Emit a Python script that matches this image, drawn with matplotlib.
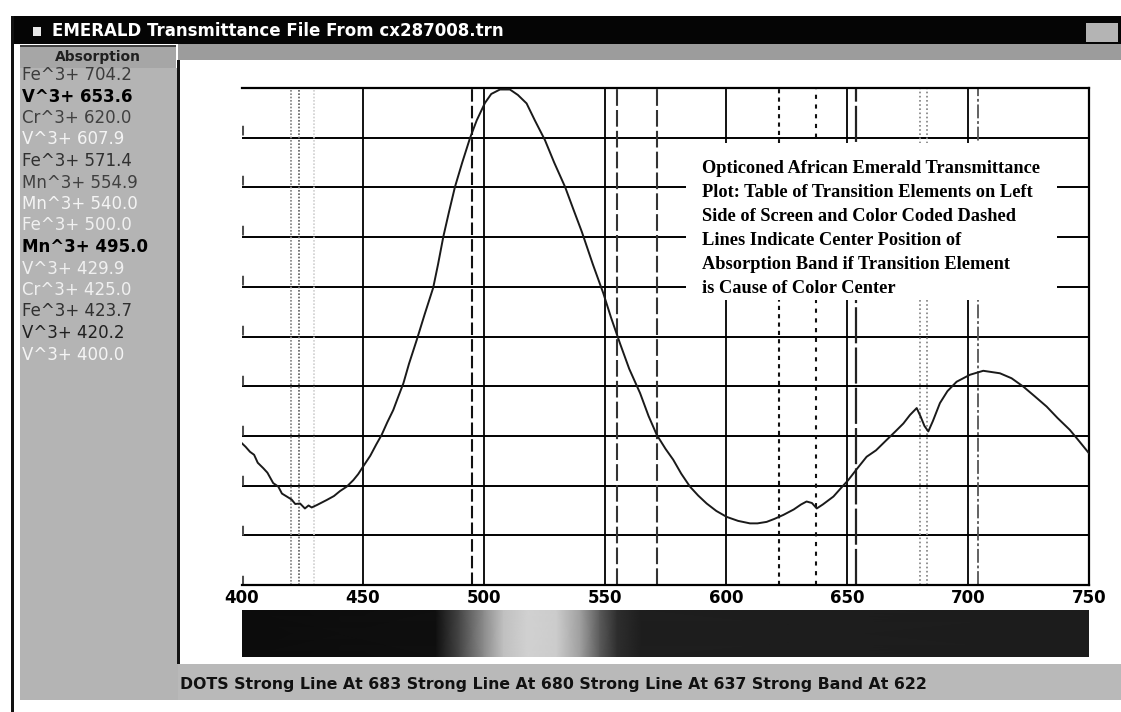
import numpy as np
import matplotlib
matplotlib.use('Agg')
import matplotlib.pyplot as plt
from matplotlib.patches import Rectangle

plt.rcParams['lines.scale_dashes'] = False

# transmittance curve (nm, % of full scale)
wavelength = [400, 401.5, 403.3, 405, 406.5, 408.8, 410.5, 412.9, 415, 416.5, 418.5,
              420.5, 422, 424, 426, 427.5, 428.8, 431, 433, 435, 438, 440.5, 443.3,
              446, 448, 450, 453, 455.5, 457.7, 460, 462.5, 464.5, 466.7, 469, 472.2,
              475.5, 479, 481, 483.2, 485.5, 488, 491, 494.2, 497, 500.4, 503, 506.6,
              510.7, 514, 517.6, 521, 525.2, 529, 533.5, 537, 540.4, 545, 549.3, 552.5,
              556.2, 560, 564.5, 568, 571.4, 575, 578.2, 581.5, 585.1, 588.5, 592, 596,
              600.3, 605, 609.9, 613, 616.8, 620, 623.7, 628, 631, 633.3, 635.5, 637.5,
              640, 644.4, 647.5, 650.5, 654, 658.1, 662, 666.4, 670, 673.3, 676, 678.8,
              680.5, 682, 683.6, 685.5, 688.4, 691.5, 695.3, 700.8, 706.3, 713.2, 718,
              722.9, 727.5, 732.5, 737, 742.1, 746, 750]
transmittance = [28.5, 27.8, 26.8, 26.2, 24.6, 23.5, 22.6, 20.5, 19.8, 18.4, 17.8,
                 17.2, 16.3, 16.4, 15.4, 16.0, 15.6, 16.1, 16.6, 17.1, 17.9, 18.9, 19.8,
                 21.1, 22.3, 23.8, 26.0, 28.3, 30.2, 32.7, 35.2, 37.8, 40.6, 44.5, 49.3,
                 54.5, 59.8, 64.5, 70.1, 75.0, 80.1, 85.0, 89.9, 93.5, 97.0, 98.8, 99.7,
                 99.7, 98.6, 96.9, 93.5, 89.5, 85.0, 80.1, 75.5, 71.1, 64.5, 58.7, 53.8,
                 48.6, 43.5, 38.6, 34.0, 30.2, 27.4, 25.2, 22.4, 19.8, 18.0, 16.4, 14.9,
                 13.7, 12.9, 12.4, 12.4, 12.7, 13.3, 14.1, 15.2, 16.2, 16.8, 16.5, 15.4,
                 16.2, 17.8, 19.5, 21.1, 23.3, 25.8, 27.1, 29.2, 30.9, 32.5, 34.2, 35.6,
                 33.8, 32.0, 30.9, 33.0, 36.6, 39.0, 40.9, 42.3, 43.1, 42.6, 41.6,
                 39.9, 38.0, 35.9, 33.6, 31.2, 28.9, 26.5]

# table of transition elements (left panel)
elem_labels = ['Fe^3+ 704.2', 'V^3+ 653.6', 'Cr^3+ 620.0', 'V^3+ 607.9', 'Fe^3+ 571.4',
               'Mn^3+ 554.9', 'Mn^3+ 540.0', 'Fe^3+ 500.0', 'Mn^3+ 495.0', 'V^3+ 429.9',
               'Cr^3+ 425.0', 'Fe^3+ 423.7', 'V^3+ 420.2', 'V^3+ 400.0']
elem_colors = ['#3c3c3c', '#000000', '#404040', '#f4f4f4', '#303030', '#404040', '#f4f4f4',
               '#f0f0f0', '#000000', '#f0f0f0', '#f0f0f0', '#303030', '#202020', '#f4f4f4']
elem_bold = [False, True, False, False, False, False, False, False, True, False, False,
             False, False, False]

# marker lines drawn on the plot
band_nm = [400.0, 420.2, 423.7, 429.9, 495.0, 554.9, 571.4, 622, 637, 653.6, 680, 683, 704.2]
band_styles = [('#505050', 2.2, (0, (7, 29))),
               ('#8a8a8a', 1.3, (0, (1.2, 1.2))),
               ('#6a6a6a', 1.3, (0, (1.2, 1.2))),
               ('#d0d0d0', 1.2, (0, (1.2, 1.2))),
               ('#111111', 1.5, (0, (9, 3))),
               ('#333333', 1.5, (0, (12, 3))),
               ('#333333', 1.5, (0, (12, 3))),
               ('#111111', 1.5, (0, (3, 3))),
               ('#111111', 1.5, (0, (3, 4))),
               ('#222222', 1.6, (0, (26, 3))),
               ('#8a8a8a', 1.3, (0, (1.2, 1.8))),
               ('#8a8a8a', 1.3, (0, (1.2, 1.8))),
               ('#555555', 1.3, (0, (10, 2, 2, 2)))]

xticks = [400, 450, 500, 550, 600, 650, 700, 750]

# grey level of the colour bar below the axis
spec_nm = [400, 480, 490, 500, 508, 518, 530, 540, 548, 555, 565, 750]
spec_gray = [0.05, 0.06, 0.28, 0.55, 0.75, 0.82, 0.80, 0.62, 0.35, 0.18, 0.12, 0.11]

note_lines = ['Opticoned African Emerald Transmittance',
              'Plot: Table of Transition Elements on Left',
              'Side of Screen and Color Coded Dashed',
              'Lines Indicate Center Position of',
              'Absorption Band if Transition Element',
              'is Cause of Color Center']

status = 'DOTS Strong Line At 683 Strong Line At 680 Strong Line At 637 Strong Band At 622'
title = 'EMERALD Transmittance File From cx287008.trn'

W, H = 1121, 712
fig = plt.figure(figsize=(W / 100, H / 100), dpi=100)
fig.patch.set_facecolor('white')

# window chrome in pixel coordinates
bg = fig.add_axes([0, 0, 1, 1])
bg.set_xlim(0, W)
bg.set_ylim(H, 0)
bg.axis('off')


def box(x0, y0, x1, y1, color):
    bg.add_patch(Rectangle((x0, y0), x1 - x0, y1 - y0, fc=color, ec='none'))


box(11, 16, W, 44, '#050505')
box(11, 16, 13.5, H, '#111111')
box(33, 27, 41, 36, '#e8e8e8')
bg.text(52, 31, title, color='white', fontsize=12, fontweight='bold', va='center')
box(1086, 23, 1118, 42, '#b4b4b4')
box(178, 44, W, 60, '#9c9c9c')
box(20, 45, 176, 68, '#a6a6a6')
box(20, 45, 176, 47, '#404040')
bg.text(98, 57, 'Absorption', fontsize=10, fontweight='bold', color='#202020',
        ha='center', va='center')
box(20, 68, 178, 700, '#b4b4b4')
box(176.5, 60, 179.5, 664, '#151515')
box(180, 60, W, 663, 'white')
box(178, 664, W, 700, '#b9b9b9')
bg.text(180, 684, status, fontsize=11.3, fontweight='bold', color='#111111', va='center')

for i, (lab, col, b) in enumerate(zip(elem_labels, elem_colors, elem_bold)):
    bg.text(22, 75 + i * 21.5, lab, fontsize=12, color=col,
            fontweight='bold' if b else 'normal', va='center')

# main plot
ax = fig.add_axes([242 / W, 1 - 585 / H, 847 / W, 497 / H])
ax.set_xlim(400, 750)
ax.set_ylim(0, 100)
ax.set_facecolor('white')
for y in range(10, 100, 10):
    ax.axhline(y, color='black', lw=1.4, zorder=2)
for x in xticks[1:-1]:
    ax.axvline(x, color='black', lw=1.3, zorder=2)
for nm, (col, lw, ls) in zip(band_nm, band_styles):
    ax.axvline(nm, color=col, lw=lw, linestyle=ls, zorder=2)

ax.plot(wavelength, transmittance, color='#1a1a1a', lw=1.4, zorder=5)

# white block behind the note
ax.add_patch(Rectangle((583.5, 57.3), 153.3, 31.6, fc='white', ec='none', zorder=3))
for i, line in enumerate(note_lines):
    ax.text(590, 83.9 - i * 4.83, line, family='Liberation Serif', fontweight='bold',
            fontsize=13.2, va='center', ha='left', zorder=4)

ax.spines['left'].set_visible(False)
for s in ['top', 'right', 'bottom']:
    ax.spines[s].set_linewidth(1.6)
ax.set_yticks([])
ax.set_xticks(xticks)
ax.set_xticklabels([str(t) for t in xticks], fontweight='bold', fontsize=12)
ax.tick_params(axis='x', length=0, pad=3)

# colour bar
sp = fig.add_axes([242 / W, 1 - 657 / H, 847 / W, 47 / H])
g = np.array(spec_gray)
sp.pcolormesh(spec_nm, [0, 1], np.vstack([g, g]), shading='gouraud', cmap='gray',
              vmin=0, vmax=1)
sp.set_xlim(400, 750)
sp.axis('off')

fig.savefig('out.png', dpi=100)
